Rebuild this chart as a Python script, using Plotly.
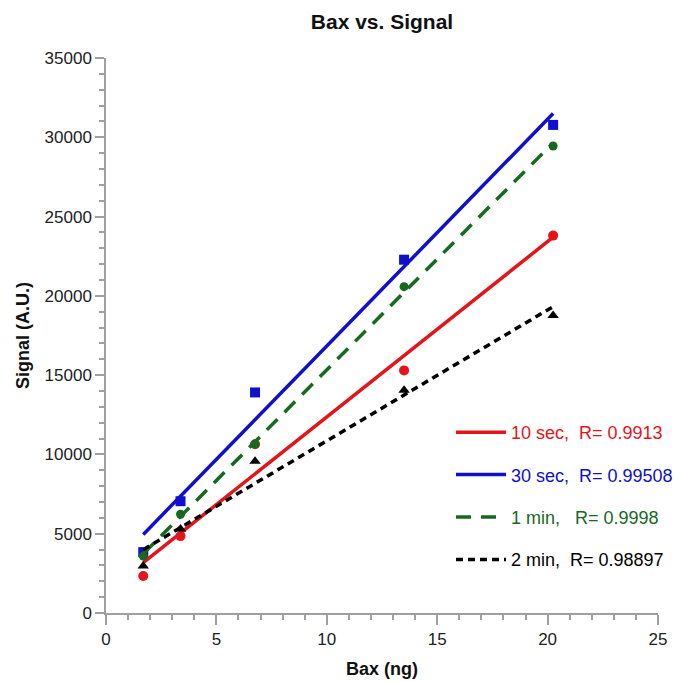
import numpy as np
import plotly.graph_objects as go

# Data
bax_ng = [1.6875, 3.375, 6.75, 13.5, 20.25]
signal_10sec = [2330, 4850, 10640, 15300, 23800]
signal_30sec = [3840, 7050, 13910, 22280, 30780]
signal_1min = [3590, 6230, 10650, 20580, 29450]
signal_2min = [2960, 5290, 9570, 14040, 18760]

series_names = ["10 sec,\u00a0\u00a0R= 0.9913", "30 sec,\u00a0\u00a0R= 0.99508",
                "1 min,\u00a0\u00a0\u00a0R= 0.9998", "2 min,\u00a0\u00a0R= 0.98897"]
series_values = [signal_10sec, signal_30sec, signal_1min, signal_2min]
colors = ["#e4141b", "#1010cc", "#17691f", "#000000"]
symbols = ["circle", "square", "circle", "triangle-up"]
msizes = [10, 10, 9, 10]
dashes = ["solid", "solid", "15px,10px", "7px,5px"]

fig = go.Figure()
x = np.array(bax_ng)
for i, (name, vals) in enumerate(zip(series_names, series_values)):
    y = np.array(vals)
    fig.add_trace(go.Scatter(
        x=bax_ng, y=vals, mode="markers",
        marker=dict(symbol=symbols[i], size=msizes[i], color=colors[i]),
        showlegend=False, legendgroup=f"g{i}", hoverinfo="x+y"))
    slope, intercept = np.polyfit(x, y, 1)
    xf = [x.min(), x.max()]
    yf = [slope * v + intercept for v in xf]
    fig.add_trace(go.Scatter(
        x=xf, y=yf, mode="lines",
        line=dict(color=colors[i], width=3.5, dash=dashes[i]),
        name=f'<span style="color:{colors[i]}">{name}</span>',
        legendgroup=f"g{i}", showlegend=True))

axis_common = dict(
    showline=True, linecolor="#a0a0a0", linewidth=1.5,
    ticks="outside", tickcolor="#a0a0a0", tickwidth=1.5,
    showgrid=False, zeroline=False, automargin=False,
    tickfont=dict(family="Liberation Sans, Arial, sans-serif", size=17, color="#222222"),
)

fig.update_layout(
    width=680, height=682,
    margin=dict(l=106, r=22, t=58, b=69, autoexpand=False),
    paper_bgcolor="white", plot_bgcolor="white",
    font=dict(family="Liberation Sans, Arial, sans-serif", color="#111111"),
    title=dict(text="<b>Bax vs. Signal</b>", x=0.5, xref="paper",
               y=1 - 22 / 682, yref="container", yanchor="middle",
               font=dict(size=21, color="#111111")),
    xaxis=dict(range=[0, 25], dtick=5, ticklen=10,
               minor=dict(dtick=1, ticks="outside", ticklen=5, tickcolor="#a0a0a0", tickwidth=1.5),
               title=dict(text="<b>Bax (ng)</b>", font=dict(size=18), standoff=14),
               **axis_common),
    yaxis=dict(range=[0, 35000], dtick=5000, ticklen=9, tickformat="d",
               minor=dict(dtick=1000, ticks="outside", ticklen=5, tickcolor="#a0a0a0", tickwidth=1.5),
               title=dict(text="<b>Signal (A.U.)</b>", font=dict(size=18), standoff=10),
               **axis_common),
    legend=dict(xref="container", yref="container",
                x=451 / 680, y=1 - 414 / 682, xanchor="left", yanchor="top",
                bgcolor="rgba(0,0,0,0)", tracegroupgap=16,
                font=dict(size=18, family="Liberation Sans, Arial, sans-serif"),
                itemwidth=50),
    showlegend=True,
)

fig.write_html("out.html")
